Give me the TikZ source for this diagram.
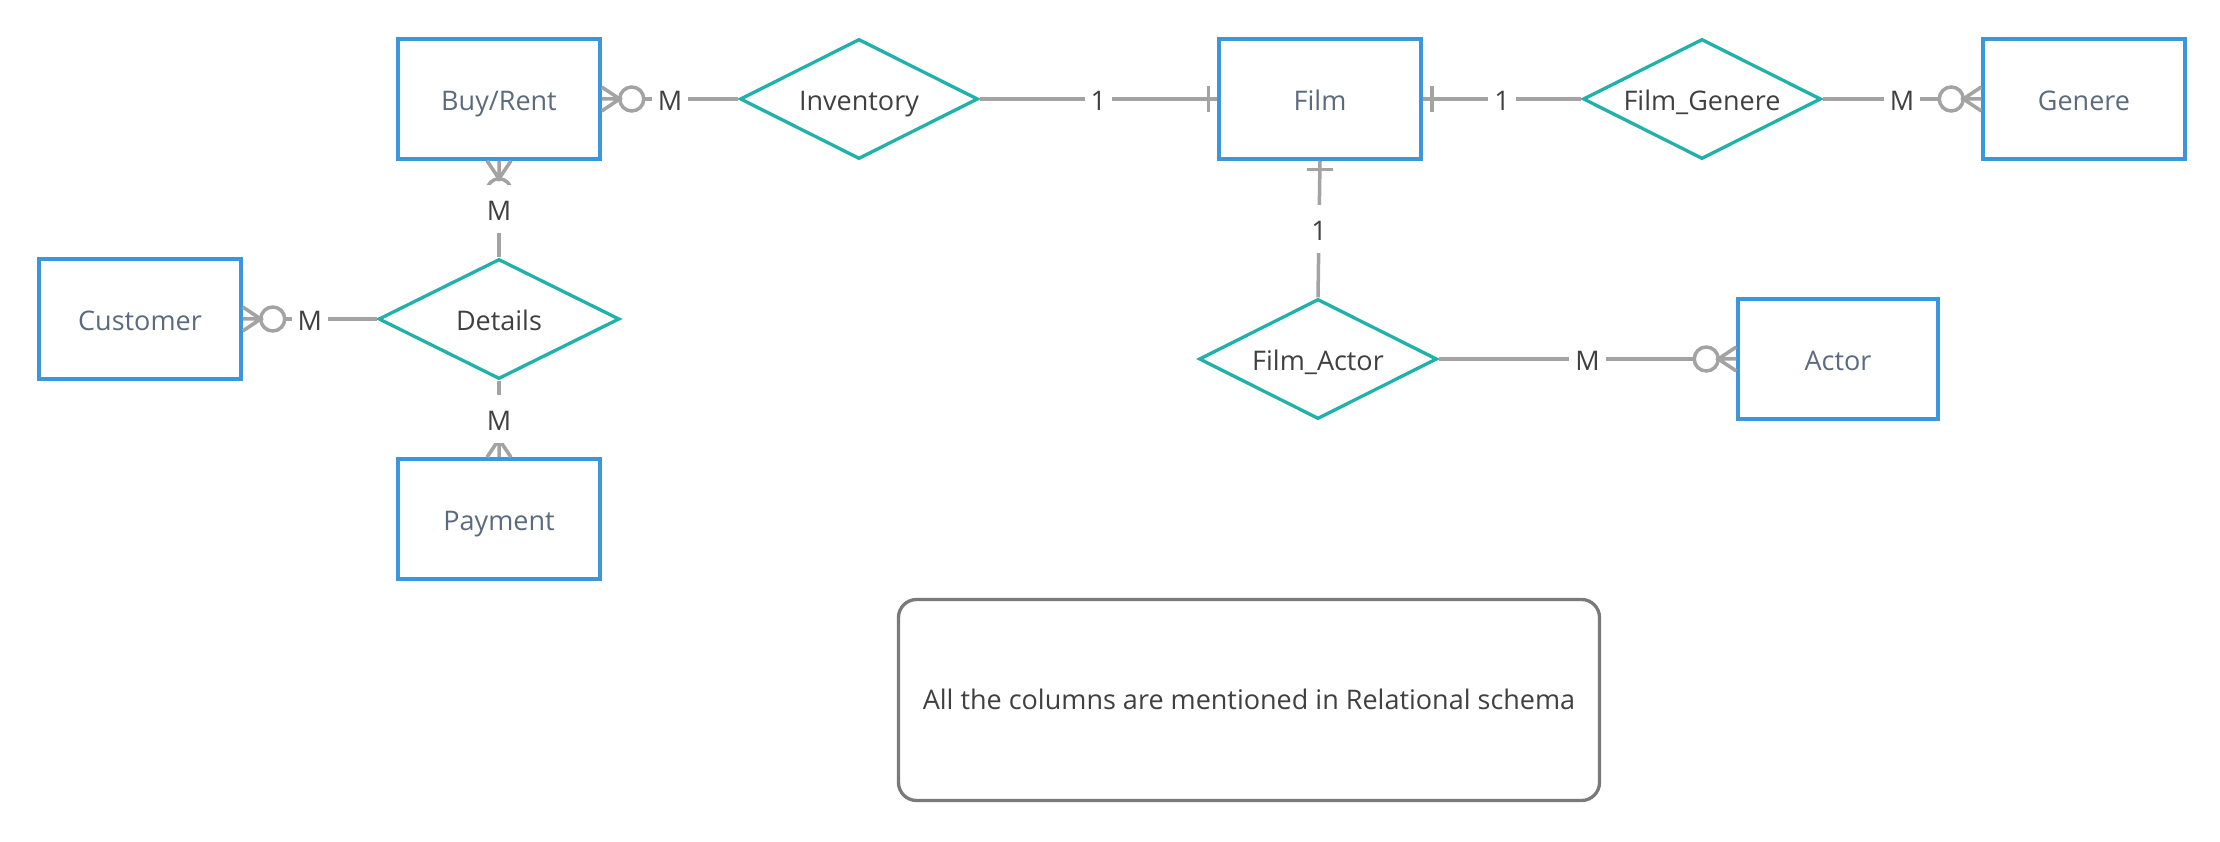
\documentclass[tikz,border=0pt]{standalone}
\usepackage{fontspec}
\setmainfont{Open Sans}
\usetikzlibrary{shapes.geometric}
\definecolor{boxblue}{HTML}{3A96DD}
\definecolor{relteal}{HTML}{20B2AA}
\definecolor{linegray}{HTML}{A3A3A3}
\definecolor{notegray}{HTML}{7A7A7A}
\definecolor{enttext}{HTML}{5B6B7D}
\definecolor{reltext}{HTML}{404040}
\tikzset{
  er_font/.style = {font=\fontsize{27}{32}\selectfont, text height=22.5pt, text depth=0pt},
  note_font/.style = {font=\fontsize{27}{32}\selectfont, text height=19.3pt, text depth=0pt}
}
\tikzset{
  entity/.style = {er_font, draw=boxblue, line width=3.5pt, text=enttext,
    minimum width=202pt, minimum height=120pt, inner sep=0},
  relation/.style = {er_font, diamond, aspect=2, draw=relteal, line width=3.3pt,
    text=reltext, minimum width=238pt, minimum height=120pt, inner sep=0},
  conn/.style = {draw=linegray, line width=3.5pt},
  card/.style = {er_font, fill=white, text=reltext, inner xsep=6pt,
    minimum height=48pt, midway},
  note_box/.style = {note_font, draw=notegray, line width=3.3pt, rounded corners=18pt,
    text=reltext, minimum width=701pt, minimum height=201pt}
}
% zero-or-many end: #1 anchor on the entity, #2 direction away from it
\newcommand{\zeromany}[2]{%
  \begin{scope}[shift={(#1)}, rotate=#2]
    \draw[conn] (0,12) -- (18,0) -- (0,-12) (0,0) -- (18,0);
    \draw[conn] (30,0) circle (12pt);
  \end{scope}}
% exactly-one end
\newcommand{\onebar}[2]{%
  \begin{scope}[shift={(#1)}, rotate=#2]
    \draw[conn] (9,13) -- (9,-13);
  \end{scope}}

\begin{document}
\begin{tikzpicture}[x=1pt, y=1pt]
    \useasboundingbox (0,0) rectangle (2220,841);

    % Entities and relations
    \node[entity] at (499,742) (buy) {Buy/Rent};
    \node[relation] at (859,742) (inv) {Inventory};
    \node[entity] at (1320,742) (film) {Film};
    \node[relation] at (1702,742) (fg) {Film\_Genere};
    \node[entity] at (2084,742) (gen) {Genere};
    \node[entity] at (140,522) (cust) {Customer};
    \node[relation, minimum width=241pt] at (499,522) (det) {Details};
    \node[entity] at (499,322) (pay) {Payment};
    \node[relation] at (1318,482) (fa) {Film\_Actor};
    \node[entity, minimum width=200pt] at (1838,482) (actor) {Actor};

    % Note
    \node[note_box] at (1249,141) (note) {All the columns are mentioned in Relational schema};

    % Line ends
    \zeromany{buy.east}{0}
    \zeromany{buy.south}{-90}
    \zeromany{cust.east}{0}
    \zeromany{pay.north}{90}
    \zeromany{gen.west}{180}
    \zeromany{actor.west}{180}
    \onebar{film.west}{180}
    \onebar{film.east}{0}
    \onebar{film.south}{-90}

    % Connectors
    \draw[conn, shorten <=42pt] (buy.east) -- (inv.west) node[card] {M};
    \draw[conn, shorten <=42pt] (buy.south) -- (det.north) node[card] {M};
    \draw[conn, shorten <=42pt] (cust.east) -- (det.west) node[card] {M};
    \draw[conn, shorten >=42pt] (det.south) -- (pay.north) node[card] {M};
    \draw[conn] (inv.east) -- (film.west) node[card] {1};
    \draw[conn] (film.east) -- (fg.west) node[card] {1};
    \draw[conn, shorten >=42pt] (fg.east) -- (gen.west) node[card] {M};
    \draw[conn] (film.south) -- (fa.north) node[card] {1};
    \draw[conn, shorten >=42pt] (fa.east) -- (actor.west) node[card] {M};
\end{tikzpicture}
\end{document}
